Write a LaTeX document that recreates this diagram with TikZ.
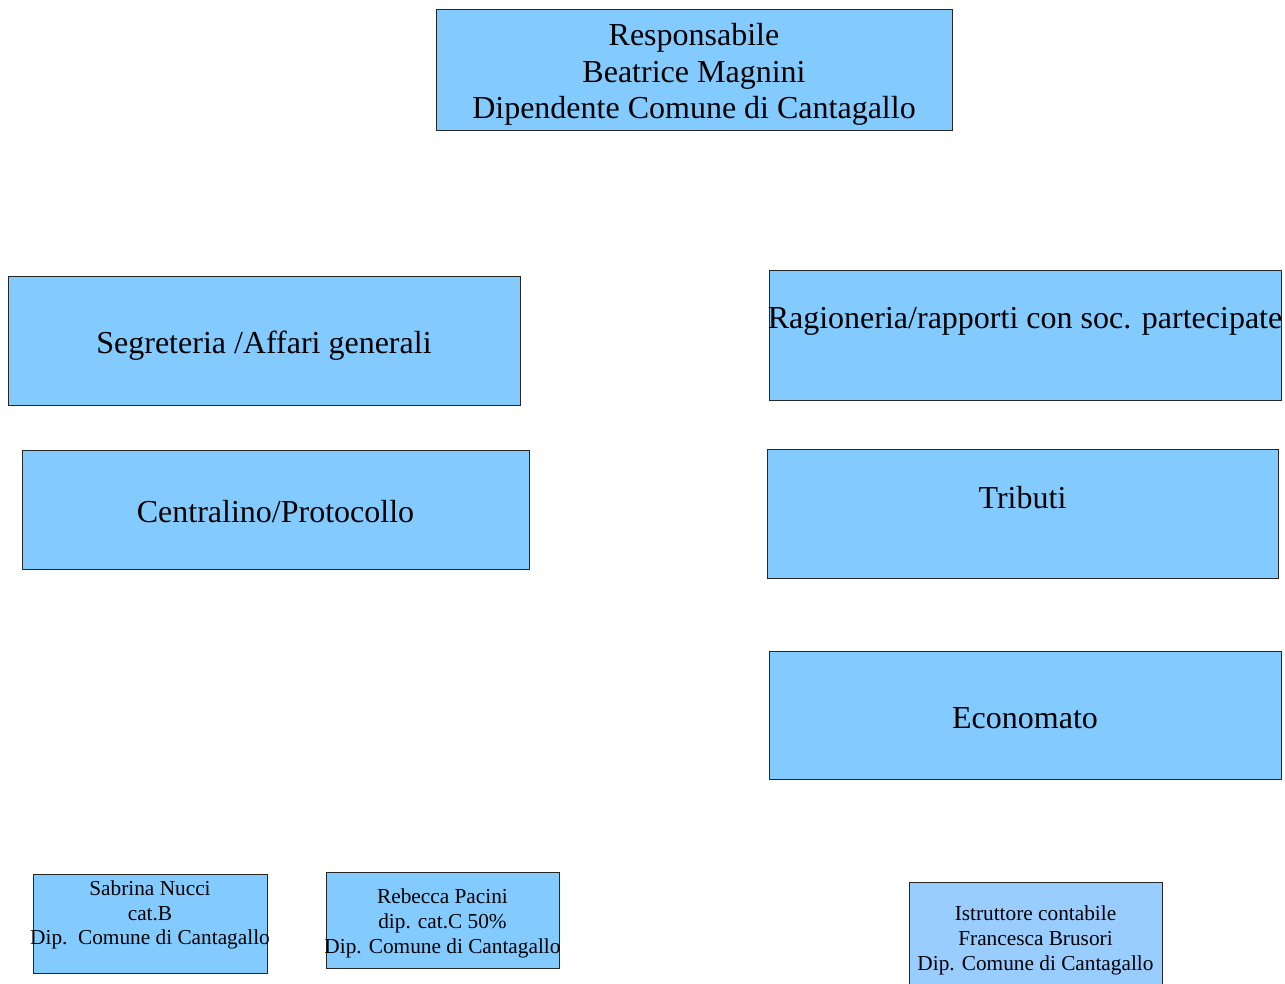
\documentclass[tikz,border=0pt]{standalone}
\usepackage{fontspec}
\setmainfont{Liberation Serif}
\definecolor{boxblue}{HTML}{83CAFF}
\definecolor{paleblue}{HTML}{99CCFF}
\begin{document}
\begin{tikzpicture}[x=1pt,y=-1pt,
  box/.style={draw=black!85, line width=0.8pt, fill=boxblue, inner sep=0pt},
  big/.style={align=center, inner sep=0pt, font=\fontsize{32}{36.5}\selectfont},
  small/.style={align=center, inner sep=0pt, font=\fontsize{21.3}{24.9}\selectfont}]
\useasboundingbox (0,0) rectangle (1285,984);
\clip (0,0) rectangle (1285,984);
% top
\draw[box] (436,9) rectangle (952,130);
\node[big] (resp) at (694,74.5) {Responsabile\\Beatrice Magnini\\Dipendente Comune di Cantagallo};
% left column
\draw[box] (8,276) rectangle (520,405);
\node[big] (segr) at (264,346) {Segreteria /Affari generali};
\draw[box] (22,450) rectangle (529,569);
\node[big] (centr) at (275.5,512) {Centralino/Protocollo};
% right column
\draw[box] (769,270) rectangle (1281,400);
\node[big] (ragi) at (1025,321) {Ragioneria/rapporti con soc. partecipate};
\draw[box] (767,449) rectangle (1278,578);
\node[big] (trib) at (1022.5,498) {Tributi};
\draw[box] (769,651) rectangle (1281,779);
\node[big] (econ) at (1025,718) {Economato};
% bottom
\draw[box] (33,874) rectangle (267,973);
\node[small] (nucci) at (150,915) {Sabrina Nucci\\cat.B\\Dip.\ \ Comune di Cantagallo};
\draw[box] (326,872) rectangle (559,968);
\node[small] (pacini) at (442.5,923.5) {Rebecca Pacini\\dip. cat.C 50\%\\Dip. Comune di Cantagallo};
\draw[box, fill=paleblue] (909,882) rectangle (1162,1000);
\node[small] (brusori) at (1035.5,940.5) {Istruttore contabile\\Francesca Brusori\\Dip. Comune di Cantagallo};
\end{tikzpicture}
\end{document}
